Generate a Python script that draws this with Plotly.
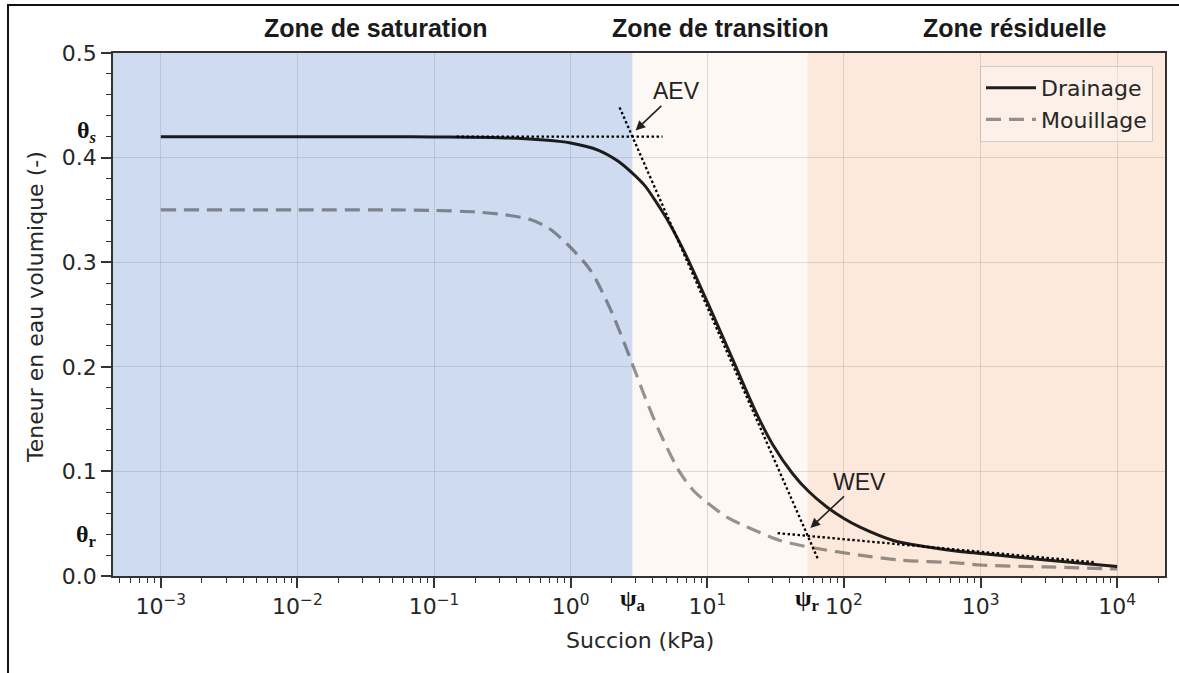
import math
import plotly.graph_objects as go

# succion (kPa) et teneur en eau
psi_drainage = [0.001, 0.01, 0.05, 0.1, 0.3, 0.6, 1.0, 1.6, 2.2, 2.84, 3.5, 4.5, 5.5,
                7.2, 10, 15, 23, 30, 42, 55, 75, 100, 130, 230, 400, 700, 1000,
                2000, 3000, 5000, 10000]
theta_drainage = [0.420, 0.420, 0.420, 0.4197, 0.419, 0.417, 0.414, 0.407, 0.397, 0.385,
                  0.373, 0.352, 0.333, 0.303, 0.262, 0.210, 0.155, 0.126, 0.098, 0.081,
                  0.066, 0.055, 0.047, 0.034, 0.028, 0.0235, 0.0215, 0.0176, 0.0153,
                  0.0127, 0.009]

psi_mouillage = [0.001, 0.01, 0.05, 0.1, 0.2, 0.3, 0.5, 0.7, 1.0, 1.4, 2.0, 2.84, 3.5,
                 4.5, 6.3, 8, 10, 14, 19.5, 34, 59, 130, 255, 700, 1000, 3000, 10000]
theta_mouillage = [0.350, 0.350, 0.350, 0.3495, 0.348, 0.346, 0.341, 0.332, 0.314, 0.292,
                   0.252, 0.202, 0.171, 0.137, 0.099, 0.081, 0.070, 0.056, 0.047, 0.034,
                   0.027, 0.020, 0.0153, 0.0124, 0.0105, 0.0087, 0.0067]

# tangentes (pointillés)
aev_h_psi = [0.146, 4.7]
aev_h_theta = [0.42, 0.42]
pente_psi = [2.28, 65.2]
pente_theta = [0.448, 0.0148]
resid_psi = [32.7, 7000]
resid_theta = [0.041, 0.013]

psi_a = 2.84
psi_r = 54
theta_s = 0.42
theta_r = 0.04

x_ticks = [1e-3, 1e-2, 1e-1, 1e0, 1e1, 1e2, 1e3, 1e4]
x_ticktext = ['10<sup>−3</sup>', '10<sup>−2</sup>', '10<sup>−1</sup>', '10<sup>0</sup>',
              '10<sup>1</sup>', '10<sup>2</sup>', '10<sup>3</sup>', '10<sup>4</sup>']

zones = ['Zone de saturation', 'Zone de transition', 'Zone résiduelle']

W, H = 1179, 673
L, R, T, B = 113, 14, 53, 97
pw, ph = W - L - R, H - T - B
XR = [-3.35, 4.35]


def px_x(p):
    return (p - L) / pw


def px_y(p):
    return (H - B - p) / ph


fig = go.Figure()

fig.add_trace(go.Scatter(x=psi_mouillage, y=theta_mouillage, mode='lines', name='Mouillage',
                         line={'color': 'rgba(45,45,45,0.5)', 'width': 3.2, 'dash': '15px,8px',
                               'shape': 'spline', 'smoothing': 0.8}))
fig.add_trace(go.Scatter(x=psi_drainage, y=theta_drainage, mode='lines', name='Drainage',
                         line={'color': 'rgba(0,0,0,0.88)', 'width': 3,
                               'shape': 'spline', 'smoothing': 0.8}))

dot = {'color': 'black', 'width': 2.3, 'dash': '2.5px,2.5px'}
for xs, ys in [(aev_h_psi, aev_h_theta), (pente_psi, pente_theta), (resid_psi, resid_theta)]:
    fig.add_trace(go.Scatter(x=xs, y=ys, mode='lines', line=dot, showlegend=False,
                             hoverinfo='skip'))

# zones (valeurs de succion, axe log)
la, lr = math.log10(psi_a), math.log10(psi_r)
for x0, x1, col in [(10 ** XR[0], psi_a, '#cedbf0'), (psi_a, psi_r, '#fdf8f4'),
                    (psi_r, 10 ** XR[1], '#fce9dc')]:
    fig.add_shape(type='rect', xref='x', yref='y', x0=x0, x1=x1, y0=0, y1=0.5,
                  fillcolor=col, line={'width': 0}, layer='below')

# cadre de la figure
fig.add_shape(type='rect', xref='paper', yref='paper', x0=px_x(8), x1=px_x(1190),
              y0=px_y(690), y1=px_y(5), line={'color': '#111', 'width': 2})

serif = {'family': 'Liberation Serif', 'size': 24, 'color': '#111'}
ann = []
for txt, cx in zip(zones, [376, 720, 1014]):
    ann.append(dict(text='<b>%s</b>' % txt, xref='paper', yref='paper', x=px_x(cx), y=px_y(28),
                    xanchor='center', yanchor='middle', showarrow=False,
                    font={'family': 'Liberation Sans', 'size': 25, 'color': '#1a1a1a'}))
ann.append(dict(text='<b>θ<sub><i>s</i></sub></b>', xref='paper', yref='y', x=px_x(99), y=theta_s,
                xanchor='right', yanchor='middle', yshift=5, showarrow=False, font=serif))
ann.append(dict(text='<b>θ<sub>r</sub></b>', xref='paper', yref='y', x=px_x(99), y=theta_r,
                xanchor='right', yanchor='middle', yshift=-2, showarrow=False, font=serif))
ann.append(dict(text='<b>ψ<sub>a</sub></b>', xref='x', yref='paper', x=la, y=px_y(600),
                xanchor='center', yanchor='middle', showarrow=False, font=serif))
ann.append(dict(text='<b>ψ<sub>r</sub></b>', xref='x', yref='paper', x=lr, y=px_y(600),
                xanchor='center', yanchor='middle', showarrow=False, font=serif))
arrow_font = {'family': 'Liberation Sans', 'size': 23, 'color': '#222'}
ann.append(dict(text='AEV', xref='x', yref='y', x=0.475, y=0.426, ax=41, ay=-39,
                showarrow=True, arrowhead=2, arrowsize=1.2, arrowwidth=1.6, arrowcolor='#222',
                font=arrow_font))
ann.append(dict(text='WEV', xref='x', yref='y', x=1.755, y=0.046, ax=49, ay=-46,
                showarrow=True, arrowhead=2, arrowsize=1.2, arrowwidth=1.6, arrowcolor='#222',
                font=arrow_font))
ann.append(dict(text='Succion (kPa)', xref='paper', yref='paper', x=px_x(640), y=px_y(640),
                xanchor='center', yanchor='middle', showarrow=False,
                font={'family': 'DejaVu Sans', 'size': 22, 'color': '#262626'}))
ann.append(dict(text='Teneur en eau volumique (-)', xref='paper', yref='paper', x=px_x(35),
                y=px_y(307), xanchor='center', yanchor='middle', textangle=-90, showarrow=False,
                font={'family': 'DejaVu Sans', 'size': 22, 'color': '#262626'}))

minor_x = [m * 10 ** e for e in range(-4, 5) for m in range(2, 10)]

fig.update_layout(
    width=W, height=H,
    margin=dict(l=L, r=R, t=T, b=B),
    paper_bgcolor='white', plot_bgcolor='white',
    font={'family': 'DejaVu Sans', 'size': 22, 'color': '#262626'},
    annotations=ann,
    legend=dict(x=px_x(1153), y=px_y(66), xanchor='right', yanchor='top', itemwidth=50,
                bgcolor='rgba(255,255,255,0.35)', bordercolor='rgba(190,190,190,0.7)',
                borderwidth=1, font={'size': 22, 'color': '#262626'}, traceorder='reversed'),
    showlegend=True,
)
fig.update_xaxes(type='log', range=XR, tickmode='array', tickvals=x_ticks, ticktext=x_ticktext,
                 ticks='outside', ticklen=10, tickwidth=1.5, tickcolor='#333',
                 showline=True, mirror=True, linecolor='#333', linewidth=1.5,
                 showgrid=True, gridcolor='rgba(128,128,128,0.25)', gridwidth=1, zeroline=False,
                 minor=dict(tickmode='array', tickvals=minor_x, ticks='outside', ticklen=5,
                            tickwidth=1.2, tickcolor='#333', showgrid=False),
                 tickfont={'size': 22})
fig.update_yaxes(range=[0, 0.5], dtick=0.1, tick0=0, tickformat='.1f',
                 ticks='outside', ticklen=10, tickwidth=1.5, tickcolor='#333',
                 showline=True, mirror=True, linecolor='#333', linewidth=1.5,
                 showgrid=True, gridcolor='rgba(128,128,128,0.25)', gridwidth=1, zeroline=False,
                 minor=dict(dtick=0.02, ticks='outside', ticklen=5, tickwidth=1.2,
                            tickcolor='#333', showgrid=False),
                 tickfont={'size': 22})

fig.write_html("out.html", config={'displayModeBar': False},
               post_script="document.body.style.margin='0';")
